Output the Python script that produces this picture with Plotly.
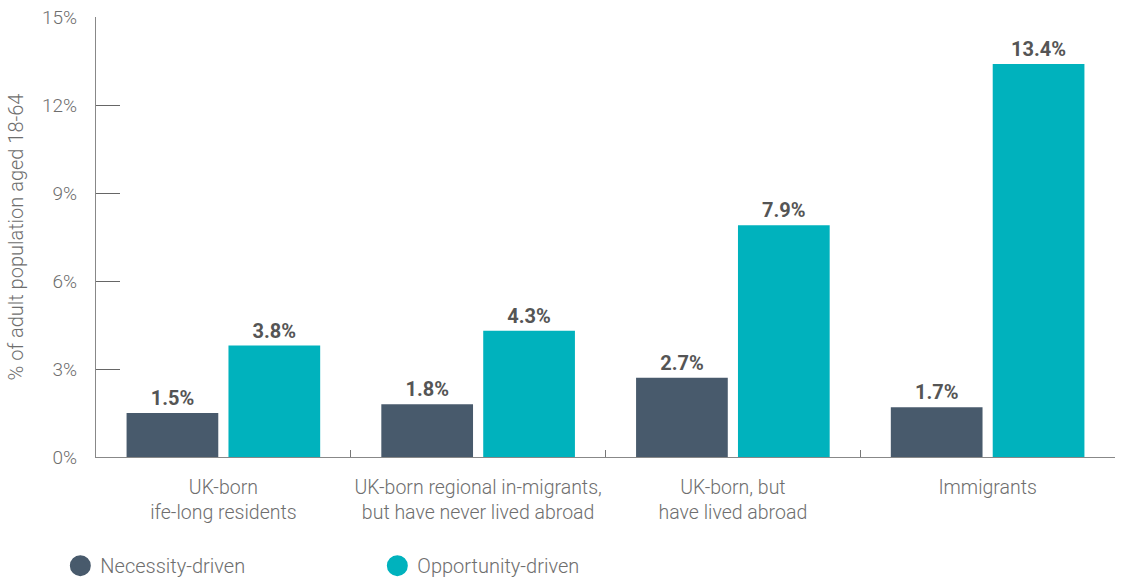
import plotly.graph_objects as go

categories = [
    "UK-born<br>ife-long residents",
    "UK-born regional in-migrants,<br>but have never lived abroad",
    "UK-born, but<br>have lived abroad",
    "Immigrants",
]
necessity = [1.5, 1.8, 2.7, 1.7]
opportunity = [3.8, 4.3, 7.9, 13.4]
series_names = ["Necessity-driven", "Opportunity-driven"]
series_colors = ["#485a6c", "#00b2bd"]
y_ticks = [0, 3, 6, 9, 12, 15]
y_ticklabels = ["0%", "3%", "6%", "9%", "12%", "15%"]

FONT = "Roboto"
GREY = "#6e6e6e"

fig = go.Figure()
for name, vals, color in zip(series_names, [necessity, opportunity], series_colors):
    fig.add_trace(go.Bar(
        x=categories, y=vals, name=name,
        marker=dict(color=color, line=dict(width=0)),
        text=[f"{v:.1f}%" for v in vals],
        textposition="outside",
        textfont=dict(family=FONT, size=20, color="#555555", weight="bold"),
        cliponaxis=False,
        showlegend=False,
    ))
    # circular legend swatch
    fig.add_trace(go.Scatter(
        x=[None], y=[None], mode="markers", name=name,
        marker=dict(color=color, size=16, symbol="circle",
                    line=dict(color=color, width=5)),
        showlegend=True,
    ))

fig.update_layout(
    width=1125, height=580,
    margin=dict(l=96, r=10, t=17, b=123, autoexpand=False),
    paper_bgcolor="white", plot_bgcolor="white",
    barmode="group", bargap=0.2, bargroupgap=0.1,
    font=dict(family=FONT, size=20, color=GREY, weight=300),
    legend=dict(
        orientation="h", x=-0.035, xanchor="left", y=-0.247, yanchor="middle",
        entrywidth=272, entrywidthmode="pixels",
        font=dict(family=FONT, size=20, color=GREY, weight=300),
        itemsizing="trace",
    ),
    yaxis=dict(
        range=[0, 15], tickvals=y_ticks, ticktext=y_ticklabels,
        ticks="inside", ticklen=24, tickwidth=1.3, tickcolor="#666666",
        showline=True, linecolor="#888888", linewidth=1.3,
        showgrid=False, zeroline=False,
        ticklabelstandoff=14,
        tickfont=dict(family=FONT, size=19, color=GREY, weight=300),
        title=dict(text="% of adult population aged 18-64",
                   font=dict(family=FONT, size=20, color=GREY, weight=300),
                   standoff=12),
    ),
    xaxis=dict(
        tickson="boundaries", ticks="inside", ticklen=7, tickwidth=1.3,
        tickcolor="#777777",
        showline=True, linecolor="#888888", linewidth=1.3,
        showgrid=False, zeroline=False,
        tickangle=0,
        ticklabelstandoff=12,
        tickfont=dict(family=FONT, size=19.5, color=GREY, weight=300),
    ),
)

fig.write_html("out.html")
